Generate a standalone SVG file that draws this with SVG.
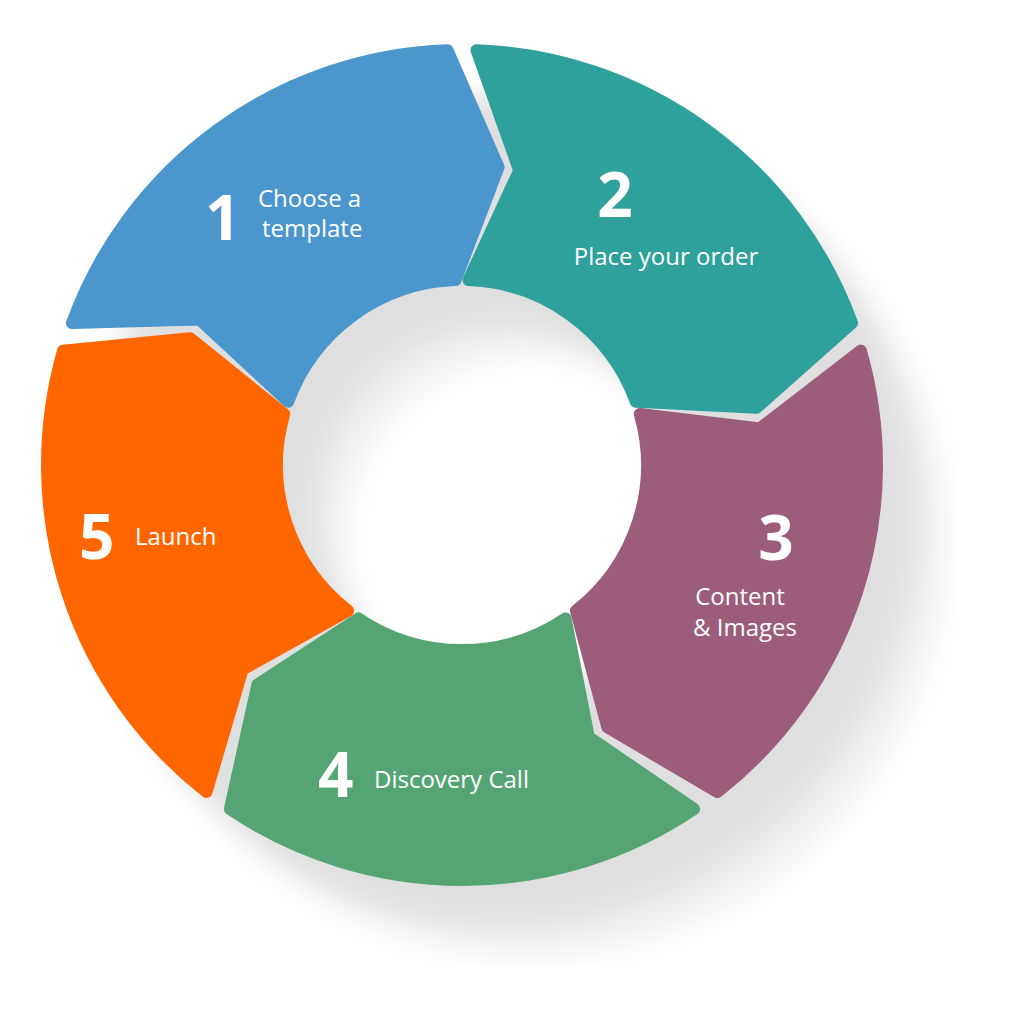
<svg xmlns="http://www.w3.org/2000/svg" width="1024" height="1024" viewBox="0 0 1024 1024">
<style>
.seg{stroke-width:12;stroke-linejoin:round}
.num{font-family:"Open Sans","DejaVu Sans",sans-serif;font-weight:700;font-size:62px;fill:#fff}
.lbl{font-family:"Open Sans","DejaVu Sans",sans-serif;font-size:24px;fill:#fff}
</style>
<defs>
<filter id="blur" x="-20%" y="-20%" width="140%" height="140%"><feGaussianBlur stdDeviation="14"/></filter>
</defs>
<rect width="1024" height="1024" fill="#fff"/>
<g id="shadow" filter="url(#blur)" opacity="0.12">
<circle cx="502" cy="510" r="300" fill="none" stroke="#000" stroke-width="230"/>
<circle cx="530" cy="540" r="300" fill="none" stroke="#000" stroke-width="230" opacity="0.5"/>
</g>
<g id="node1"><path class="seg" fill="#4A96CD" stroke="#4A96CD" d="M72,323.1 A415,415 0 0 1 447.5,50.2 L498.6,167.2 L455.5,280.1 A185,185 0 0 0 288.2,401.7 L199.6,319.6 Z"/>
<text class="num" x="205" y="240">1</text><text class="lbl" x="258" y="207">Choose a</text><text class="lbl" x="262" y="237">template</text></g>
<g id="node2"><path class="seg" fill="#2FA19C" stroke="#2FA19C" d="M476.5,50.2 A415,415 0 0 1 852,323.1 L756.5,407.8 L635.8,401.7 A185,185 0 0 0 468.5,280.1 L519.2,170.5 Z"/>
<text class="num" x="615" y="217" text-anchor="middle">2</text><text class="lbl" x="666" y="265" text-anchor="middle">Place your order</text></g>
<g id="node3"><path class="seg" fill="#9B5D7A" stroke="#9B5D7A" d="M860.9,350.6 A415,415 0 0 1 717.5,792 L607.4,727.4 L575.9,610.8 A185,185 0 0 0 639.8,414 L759.8,428.4 Z"/>
<text class="num" x="776" y="560" text-anchor="middle">3</text><text class="lbl" x="740" y="605" text-anchor="middle">Content</text><text class="lbl" x="745" y="636" text-anchor="middle">&amp; Images</text></g>
<g id="node4"><path class="seg" fill="#55A574" stroke="#55A574" d="M694.1,809 A415,415 0 0 1 229.9,809 L257.4,684.4 L358.5,618.4 A185,185 0 0 0 565.5,618.4 L588.8,736.9 Z"/>
<text class="num" x="318" y="797">4</text><text class="lbl" x="374" y="788">Discovery Call</text></g>
<g id="node5"><path class="seg" fill="#FF6600" stroke="#FF6600" d="M206.5,792 A415,415 0 0 1 63.1,350.6 L190.1,338.2 L284.2,414 A185,185 0 0 0 348.1,610.8 L242.6,669.6 Z"/>
<text class="num" x="79" y="559">5</text><text class="lbl" x="135" y="545">Launch</text></g>
<g id="connectors"/>
</svg>
